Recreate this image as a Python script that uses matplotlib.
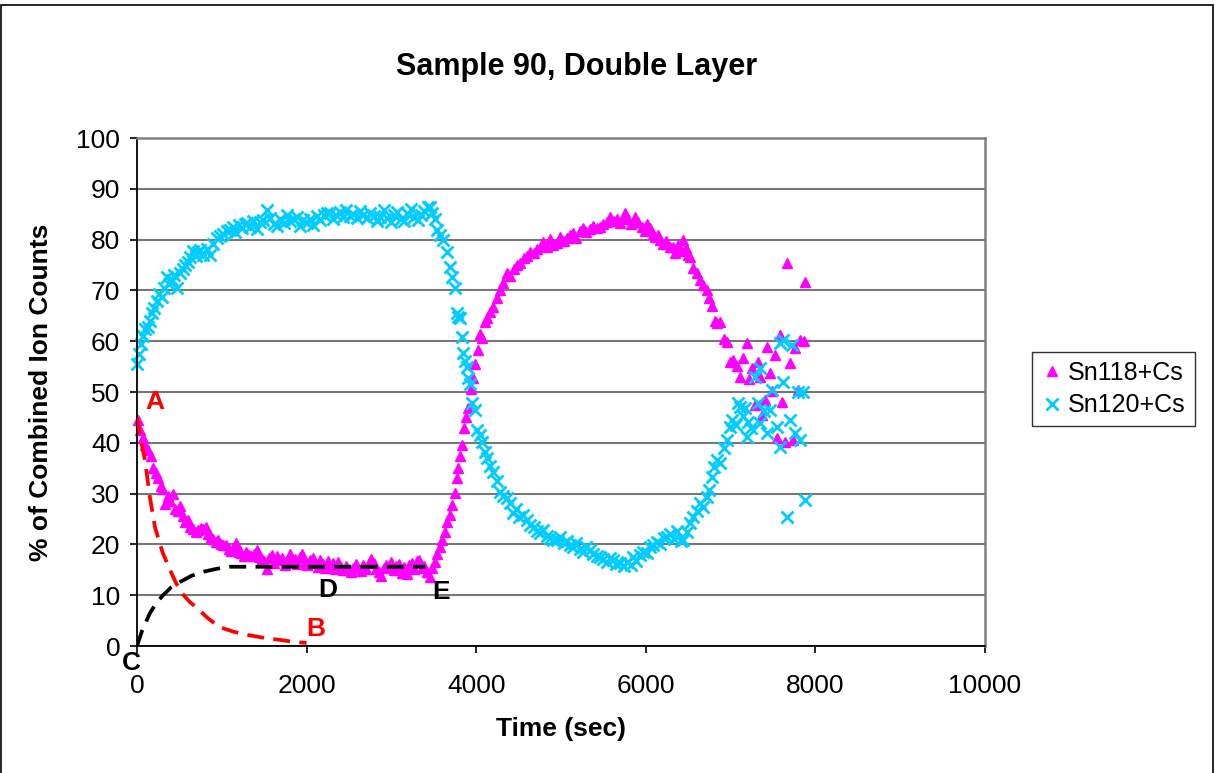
# Sample 90 double layer - ion count fractions vs time
import matplotlib
matplotlib.use('Agg')
import matplotlib.pyplot as plt
from matplotlib.patches import Rectangle

plt.rcParams['font.family'] = ['Liberation Sans', 'DejaVu Sans']

# Sn118+Cs (magenta triangles): time (sec), % of combined counts
t118 = [10, 40, 70, 100, 130, 160, 190, 220, 250, 280, 300, 330, 360, 390, 420, 450, 480, 510, 540, 570,
        600, 630, 660, 690, 720, 750, 780, 810, 840, 870, 900, 930, 960, 990, 1020, 1050, 1080, 1110, 1140, 1170,
        1200, 1230, 1260, 1290, 1320, 1350, 1380, 1410, 1440, 1470, 1500, 1530, 1560, 1590, 1620, 1650, 1680, 1710, 1740, 1770,
        1800, 1830, 1860, 1890, 1920, 1950, 1980, 2010, 2040, 2070, 2100, 2130, 2160, 2190, 2220, 2250, 2280, 2310, 2340, 2370,
        2400, 2430, 2460, 2490, 2520, 2550, 2580, 2610, 2640, 2670, 2700, 2730, 2760, 2790, 2820, 2850, 2880, 2910, 2940, 2970,
        3000, 3030, 3060, 3090, 3120, 3150, 3180, 3210, 3240, 3270, 3300, 3330, 3360, 3390, 3420, 3450, 3480, 3510, 3540, 3570,
        3600, 3630, 3660, 3690, 3720, 3750, 3770, 3790, 3810, 3830, 3855, 3880, 3905, 3935, 3962, 3990, 4020, 4045, 4070, 4100,
        4130, 4160, 4200, 4240, 4280, 4320, 4360, 4400, 4440, 4480, 4520, 4560, 4600, 4640, 4680, 4720, 4760, 4790, 4830, 4870,
        4910, 4950, 4990, 5030, 5070, 5110, 5140, 5180, 5220, 5260, 5300, 5340, 5380, 5420, 5460, 5500, 5540, 5580, 5620, 5660,
        5700, 5740, 5755, 5790, 5830, 5873, 5910, 5950, 5990, 6020, 6050, 6080, 6110, 6140, 6170, 6200, 6240, 6280, 6320, 6350,
        6380, 6410, 6440, 6470, 6500, 6520, 6560, 6600, 6640, 6680, 6720, 6750, 6780, 6815, 6845, 6875, 6920, 6960, 6995, 7030,
        7070, 7110, 7150, 7190, 7220, 7250, 7290, 7320, 7350, 7370, 7400, 7430, 7465, 7490, 7520, 7550, 7580, 7605, 7640, 7665,
        7700, 7730, 7760, 7790, 7820, 7860, 7880]
v118 = [44.5, 42.5, 41, 39.5, 38.5, 37.5, 35, 34, 33, 31.5, 31, 28, 29.5, 28.5, 30, 27, 26.5, 27.5, 25.5, 24.5,
        24.8, 23.5, 23, 22.5, 22.8, 23.2, 23, 23.5, 22, 21.5, 21, 20.5, 20.9, 20, 19.8, 19.9, 19, 18.7, 19.5, 20.2,
        18.5, 18.3, 17.8, 18.6, 18, 17.7, 18.2, 18.9, 17.5, 17.2, 16.8, 15.2, 17.4, 17.9, 16.3, 17.8, 16.9, 17.3, 16, 16.8,
        18.2, 16.5, 17.1, 16.2, 17.6, 18.1, 16.6, 15.9, 16.9, 17.3, 16.4, 15.6, 16.9, 16.1, 15.3, 16.7, 15.8, 16.3, 15.2, 16.5,
        15.5, 14.9, 15.7, 15.1, 14.6, 15.4, 16.2, 15.3, 14.8, 15.9, 15.1, 16.4, 17.1, 16.3, 15.2, 14.6, 13.7, 15.4, 16.0, 15.5,
        16.5, 15.0, 15.8, 16.1, 14.3, 15.6, 14.1, 15.9, 16.3, 15.2, 16.8, 17.0, 15.3, 15.8, 14.5, 13.6, 15.4, 16.5, 18.2, 19.5,
        20.9, 22.4, 24.5, 25.8, 27.8, 30.1, 33, 35, 37.5, 39.6, 42.9, 45.1, 46.9, 50.5, 52.8, 55.5, 58.3, 61.5, 60.6, 63.8,
        64.5, 65.8, 66.7, 68.5, 70, 71.5, 73.4, 72.8, 74.2, 75, 75.4, 76.3, 76.8, 77.5, 77.4, 78.2, 78.8, 79.5, 78.6, 80.1,
        79.0, 79.3, 80.5, 79.8, 80.3, 80.9, 81.3, 80.4, 81.6, 82.2, 81.5, 82, 82.6, 82.3, 82.5, 83.1, 83.5, 84.5, 83.6, 84.0,
        83.2, 84.4, 85.2, 84.0, 83.1, 84.5, 83.5, 82.5, 81.6, 83.0, 82.3, 81.2, 80.5, 81.0, 80, 79.2, 79.8, 78.5, 78.5, 77.3,
        79.0, 77.8, 80, 78.3, 77.0, 76.6, 74.5, 73.4, 72.1, 71.0, 70, 68.5, 67, 64, 63.6, 63.8, 60.5, 59.8, 56.0, 56.3,
        55.2, 53, 56.7, 59.6, 52.5, 54.7, 47.4, 56, 53, 45.5, 48.5, 58.9, 53.7, 50.2, 57.3, 41, 61.2, 48, 40.2, 75.4,
        55.7, 40.5, 58.7, 50.3, 60.2, 60.0, 71.7]

# Sn120+Cs (cyan crosses)
t120 = [0, 25, 50, 75, 100, 125, 150, 175, 200, 230, 260, 295, 320, 354, 380, 410, 440, 472, 507, 540,
        570, 601, 630, 660, 690, 720, 743, 780, 820, 860, 900, 943, 980, 1020, 1060, 1097, 1130, 1160, 1200, 1240,
        1270, 1297, 1330, 1370, 1410, 1450, 1486, 1533, 1570, 1610, 1650, 1690, 1730, 1770, 1810, 1850, 1887, 1920, 1960, 2000,
        2040, 2080, 2120, 2160, 2200, 2240, 2276, 2310, 2350, 2390, 2430, 2470, 2510, 2550, 2590, 2630, 2670, 2710, 2750, 2790,
        2830, 2870, 2910, 2950, 2990, 3030, 3070, 3110, 3150, 3190, 3230, 3270, 3310, 3350, 3390, 3430, 3455, 3480, 3510, 3540,
        3575, 3610, 3650, 3690, 3715, 3750, 3770, 3790, 3810, 3830, 3850, 3870, 3890, 3903, 3925, 3950, 3980, 4010, 4040, 4068,
        4100, 4127, 4160, 4200, 4240, 4280, 4320, 4360, 4400, 4433, 4470, 4510, 4550, 4600, 4640, 4680, 4720, 4750, 4790, 4830,
        4870, 4910, 4950, 4990, 5030, 5070, 5110, 5140, 5180, 5220, 5260, 5300, 5340, 5380, 5420, 5460, 5500, 5540, 5580, 5610,
        5650, 5700, 5740, 5780, 5820, 5850, 5890, 5930, 5970, 6010, 6050, 6090, 6130, 6170, 6210, 6250, 6290, 6330, 6370, 6410,
        6440, 6480, 6520, 6560, 6600, 6640, 6680, 6720, 6750, 6780, 6810, 6840, 6880, 6920, 6960, 6995, 7020, 7060, 7090, 7110,
        7150, 7170, 7190, 7205, 7240, 7290, 7320, 7350, 7350, 7390, 7430, 7465, 7490, 7550, 7580, 7580, 7620, 7620, 7665, 7700,
        7720, 7760, 7800, 7820, 7850, 7880]
v120 = [55.5, 57.5, 59.5, 61.0, 62.5, 62.8, 64.0, 65.5, 66.5, 68, 69.2, 68.7, 70.5, 72.6, 71.2, 72.0, 73.1, 70.5, 73.4, 74.2,
        75.0, 75.6, 76.5, 77.8, 76.8, 77.5, 78, 76.9, 78.2, 77, 79.2, 80.3, 80.8, 81.2, 81.6, 81.9, 82.5, 81.5, 82.9, 82.2,
        83.0, 83.3, 82.4, 83.6, 82.1, 83.5, 83.9, 85.8, 84.2, 83.1, 82.6, 84.0, 83.2, 84.8, 83.6, 84.1, 84.5, 82.6, 83.8, 83.3,
        84.1, 82.9, 84.6, 83.8, 84.9, 85.3, 85.2, 84.1, 84.8, 85.4, 84.5, 85.8, 84.6, 85.1, 84.2, 85.6, 84.9, 84.3, 85.2, 84.6,
        83.7, 84.5, 85.9, 84.2, 83.4, 84.8, 85.5, 84.1, 83.6, 85.1, 86.0, 84.5, 83.8, 84.9, 85.6, 86.4, 86.4, 85.2, 84.0, 81.9,
        81.0, 80, 77.6, 74.6, 72.6, 70.5, 65.6, 64.8, 64.6, 60.8, 57.7, 56.2, 55, 52.8, 51.5, 47.8, 46.5, 42.5, 41.6, 40.2,
        38.2, 37, 35.5, 34.3, 32.5, 30.3, 29.5, 29.2, 28.1, 26.2, 27.0, 25.3, 25.8, 24.8, 23.9, 23.4, 22.6, 22.2, 22.9, 21.6,
        21.3, 20.8, 20.9, 21.5, 20.3, 20.7, 19.9, 19.5, 20.2, 19.0, 18.6, 19.4, 18.9, 18.2, 17.8, 17.5, 17.1, 16.5, 17.3, 16.9,
        16.1, 16.3, 15.8, 16.6, 15.9, 17.5, 16.8, 17.9, 18.6, 18.3, 19.5, 19.9, 20.5, 20.0, 21.2, 21.5, 22.1, 21.0, 22.6, 20.6,
        20.9, 22.5, 24.2, 25.4, 26.5, 28.1, 27.4, 29.3, 30.7, 33.3, 35.2, 36.6, 36.0, 39.0, 40.6, 43.2, 44.5, 43.6, 47.8, 47,
        45.2, 46.8, 41.1, 44, 43.0, 53, 47.8, 54.7, 43.9, 46.2, 41.9, 46.5, 50.4, 43.1, 39.2, 59.6, 60.2, 52, 25.4, 44.5,
        59.3, 41.9, 50, 40.6, 50, 28.7]

# hand-drawn guide curves A-B and C-D-E
t_ab = [0, 40, 94, 150, 212, 300, 389, 460, 530, 620, 707, 840, 980, 1140, 1297, 1500, 1686, 1850, 2000]
v_ab = [45, 41, 36.6, 29.5, 23.4, 18.5, 15, 12.4, 10.4, 8.7, 7.5, 5.4, 3.7, 2.8, 2.2, 1.6, 1.2, 0.8, 0.6]
t_ce = [0, 60, 153, 230, 307, 400, 507, 640, 778, 940, 1097, 1300, 3400]
v_ce = [0, 3, 6.5, 8.5, 10, 11.5, 12.6, 13.8, 14.6, 15.2, 15.6, 15.6, 15.6]

fig = plt.figure(figsize=(12.15, 7.73), dpi=100)
ax = fig.add_axes([137/1215, 1 - 646/773, 848/1215, 508/773])

ax.set_xlim(0, 10000)
ax.set_ylim(0, 100)
ax.set_xticks(range(0, 10001, 2000))
ax.set_yticks(range(0, 101, 10))
ax.yaxis.grid(True, color='#777777', lw=1.5)
ax.set_axisbelow(True)
for s in ['top', 'right']:
    ax.spines[s].set_color('#808080')
    ax.spines[s].set_linewidth(1.8)
for s in ['left', 'bottom']:
    ax.spines[s].set_color('black')
    ax.spines[s].set_linewidth(1.3)
ax.tick_params(direction='out', length=5, width=1.2, labelsize=19)
ax.tick_params(axis='y', pad=7)
ax.tick_params(axis='x', pad=15)

ax.plot(t118, v118, ls='none', marker='^', ms=7, color='#ff00ff', label='Sn118+Cs', clip_on=False)
ax.plot(t120, v120, ls='none', marker='x', ms=8.5, mew=2, color='#00ccff', label='Sn120+Cs', clip_on=False)

ax.plot(t_ab, v_ab, color='#ff0000', lw=2.7, ls=(0, (4.5, 2.5)), zorder=4)
ax.plot(t_ce, v_ce, color='black', lw=2.7, ls=(0, (4.5, 2.5)), zorder=4)

lab = dict(fontsize=19, fontweight='bold', ha='center', va='center', zorder=5)
ax.text(212, 48, 'A', color='#ff0000', **lab)
ax.text(2110, 3.3, 'B', color='#ff0000', **lab)
ax.text(-70, -3.3, 'C', color='black', clip_on=False, **lab)
ax.text(2250, 11, 'D', color='black', **lab)
ax.text(3585, 10.6, 'E', color='black', **lab)

ax.set_xlabel('Time (sec)', fontsize=19, fontweight='bold', labelpad=14)
ax.set_ylabel('% of Combined Ion Counts', fontsize=19, fontweight='bold', labelpad=17)
fig.text(577/1215, 1 - 67/773, 'Sample 90, Double Layer', fontsize=22, fontweight='bold',
         ha='center', va='center')

leg = ax.legend(loc='center left', bbox_to_anchor=(1032/1215, 1 - 389/773),
                bbox_transform=fig.transFigure, borderaxespad=0, fontsize=18,
                fancybox=False, edgecolor='black', handletextpad=0.2, handlelength=0.9,
                borderpad=0.35, labelspacing=0.35)
leg.get_frame().set_linewidth(1.0)

fig.patches.append(Rectangle((0.001, -0.01), 0.997, 1.004, transform=fig.transFigure,
                             fill=False, edgecolor='black', lw=1.2))

fig.savefig('out.png', dpi=100)
